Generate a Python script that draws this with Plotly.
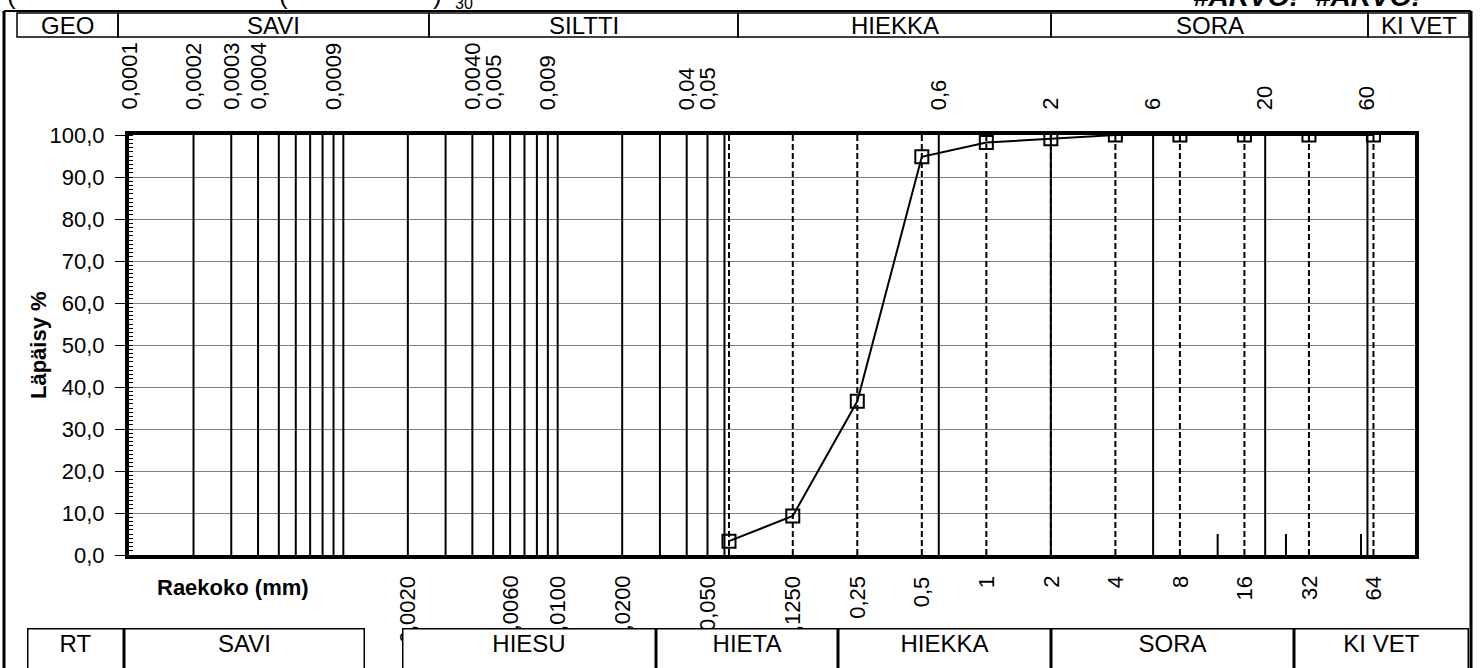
import math
import plotly.graph_objects as go

# ---------------- data ----------------
sieve_mm = [0.063, 0.125, 0.25, 0.5, 1, 2, 4, 8, 16, 32, 64]
passing_pct = [3.3, 9.3, 36.6, 94.8, 98.2, 99.1, 100, 100, 100, 100, 100]

solid_lines_mm = [0.0002, 0.0003, 0.0004, 0.0005, 0.0006, 0.0007, 0.0008, 0.0009, 0.001,
                  0.002, 0.003, 0.004, 0.005, 0.006, 0.007, 0.008, 0.009, 0.01,
                  0.02, 0.03, 0.04, 0.05, 0.06, 0.6, 2, 6, 20, 60]
dashed_lines_mm = [0.063, 0.125, 0.25, 0.5, 1, 2, 4, 8, 16, 32, 64]
short_marks_mm = [12, 25, 56]
short_marks_height = [5, 5, 5]

top_tick_vals = [0.0001, 0.0002, 0.0003, 0.0004, 0.0009, 0.0040, 0.005, 0.009,
                 0.04, 0.05, 0.6, 2, 6, 20, 60]
top_tick_text = ["0,0001", "0,0002", "0,0003", "0,0004", "0,0009", "0,0040", "0,005",
                 "0,009", "0,04", "0,05", "0,6", "2", "6", "20", "60"]
bottom_tick_vals = [0.002, 0.006, 0.01, 0.02, 0.05, 0.125, 0.25, 0.5, 1, 2, 4, 8, 16, 32, 64]
bottom_tick_text = ["0,0020", "0,0060", "0,0100", "0,0200", "0,050", "0,1250", "0,25",
                    "0,5", "1", "2", "4", "8", "16", "32", "64"]

top_table_labels = ["GEO", "SAVI", "SILTTI", "HIEKKA", "SORA", "KI VET"]
top_table_edges = [17, 118, 429, 738, 1051, 1368, 1469]
bottom_table_labels = ["RT", "SAVI", "HIESU", "HIETA", "HIEKKA", "SORA", "KI VET"]
bottom_table_cells = [(27, 124), (124, 365), (402, 656), (656, 838), (838, 1051),
                      (1051, 1294), (1294, 1469)]

# ---------------- layout geometry (window pixels) ----------------
W, H = 1481, 668
OFF = 0   # page body margin removed via post_script
PL, PR, PT, PB = 129, 1415, 135, 555          # plot area in window pixels
FONT = "Arial, Liberation Sans, sans-serif"
FS = 22      # tick / label font
FS_T = 24    # table font


def px_x(px):
    return (px - PL) / (PR - PL)


def px_y(py):
    return (PB - py) / (PB - PT)


def vlines(vals, y0, y1s):
    xs, ys = [], []
    for v, y1 in zip(vals, y1s):
        xs += [v, v, None]
        ys += [y0, y1, None]
    return xs, ys


fig = go.Figure()

xs, ys = vlines(solid_lines_mm, 0, [100] * len(solid_lines_mm))
fig.add_trace(go.Scatter(x=xs, y=ys, mode="lines", line=dict(color="black", width=2),
                         hoverinfo="skip", showlegend=False))
xs, ys = vlines(dashed_lines_mm, 0, [100] * len(dashed_lines_mm))
fig.add_trace(go.Scatter(x=xs, y=ys, mode="lines",
                         line=dict(color="black", width=2, dash="6px,3px"),
                         hoverinfo="skip", showlegend=False))
xs, ys = vlines(short_marks_mm, 0, short_marks_height)
fig.add_trace(go.Scatter(x=xs, y=ys, mode="lines", line=dict(color="black", width=2),
                         hoverinfo="skip", showlegend=False))

fig.add_trace(go.Scatter(
    x=sieve_mm, y=passing_pct, mode="lines+markers",
    line=dict(color="black", width=2),
    marker=dict(symbol="square-open", size=13, color="black", line=dict(width=2)),
    showlegend=False))

annotations = []
shapes = []

# top rotated labels
for v, t in zip(top_tick_vals, top_tick_text):
    annotations.append(dict(x=math.log10(v), xref="x", y=px_y(112), yref="paper",
                            text=t, textangle=-90, showarrow=False,
                            xanchor="center", yanchor="bottom",
                            font=dict(family=FONT, size=FS, color="black")))
# bottom rotated labels
for v, t in zip(bottom_tick_vals, bottom_tick_text):
    annotations.append(dict(x=math.log10(v), xref="x", y=px_y(574), yref="paper",
                            text=t, textangle=-90, showarrow=False,
                            xanchor="center", yanchor="top",
                            font=dict(family=FONT, size=FS, color="black")))

annotations.append(dict(x=px_x(233), xref="paper", y=px_y(587), yref="paper",
                        text="<b>Raekoko (mm)</b>", showarrow=False,
                        xanchor="center", yanchor="middle",
                        font=dict(family=FONT, size=FS, color="black")))
annotations.append(dict(x=px_x(38), xref="paper", y=px_y(345), yref="paper",
                        text="<b>Läpäisy %</b>", textangle=-90, showarrow=False,
                        xanchor="center", yanchor="middle",
                        font=dict(family=FONT, size=FS, color="black")))

# top title row, cut off by the window's top edge as in the reference
for txt, cx, size, by in [("(", 11, 26, 12), ("(", 283, 26, 12), (")", 437, 26, 12),
                          ("30", 464, 16, 14)]:
    annotations.append(dict(x=px_x(cx), xref="paper", y=px_y(by), yref="paper",
                            text=txt, showarrow=False, xanchor="center", yanchor="bottom",
                            font=dict(family=FONT, size=size, color="black")))
for cx in [1246, 1368]:
    annotations.append(dict(x=px_x(cx), xref="paper", y=px_y(14), yref="paper",
                            text="<b><i>#ARVO!</i></b>", showarrow=False,
                            xanchor="center", yanchor="bottom",
                            font=dict(family=FONT, size=28, color="black")))

# top table
for i, lab in enumerate(top_table_labels):
    x0, x1 = top_table_edges[i], top_table_edges[i + 1]
    shapes.append(dict(type="rect", xref="paper", yref="paper",
                       x0=px_x(x0), x1=px_x(x1), y0=px_y(37), y1=px_y(13),
                       line=dict(color="black", width=1.5)))
    annotations.append(dict(x=px_x((x0 + x1) / 2), xref="paper", y=px_y(25), yref="paper",
                            text=lab, showarrow=False, xanchor="center", yanchor="middle",
                            font=dict(family=FONT, size=FS_T, color="black")))

# bottom table (cells drawn as boxed annotations so they cover label overflow)
for lab, (x0, x1) in zip(bottom_table_labels, bottom_table_cells):
    annotations.append(dict(x=px_x((x0 + x1) / 2), xref="paper", y=px_y(628), yref="paper",
                            text=lab, showarrow=False, xanchor="center", yanchor="top",
                            width=x1 - x0 - 3, height=60, valign="top", align="center",
                            bgcolor="white", bordercolor="black", borderwidth=1.5,
                            borderpad=0,
                            font=dict(family=FONT, size=FS_T, color="black")))

# outer frame
shapes.append(dict(type="line", xref="paper", yref="paper", x0=px_x(4), x1=px_x(1471),
                   y0=px_y(11), y1=px_y(11), line=dict(color="black", width=2)))
shapes.append(dict(type="line", xref="paper", yref="paper", x0=px_x(4), x1=px_x(4),
                   y0=px_y(11), y1=px_y(700), line=dict(color="black", width=3)))
shapes.append(dict(type="line", xref="paper", yref="paper", x0=px_x(1471), x1=px_x(1471),
                   y0=px_y(11), y1=px_y(700), line=dict(color="black", width=3)))

fig.update_layout(
    width=W, height=H,
    margin=dict(l=PL - OFF, r=W - (PR - OFF), t=PT - OFF, b=H - (PB - OFF), pad=0),
    paper_bgcolor="white", plot_bgcolor="white",
    separators=", ",
    font=dict(family=FONT, size=FS, color="black"),
    showlegend=False,
    annotations=annotations,
    shapes=shapes,
    xaxis=dict(type="log", range=[-4, 2], showgrid=False, zeroline=False,
               showticklabels=False, ticks="", showline=True, mirror=True,
               linecolor="black", linewidth=4, fixedrange=True),
    yaxis=dict(range=[0, 100], dtick=10, tick0=0, tickformat=".1f",
               showgrid=True, gridcolor="#808080", gridwidth=1, zeroline=False,
               ticks="outside", ticklen=10, tickwidth=1, tickcolor="black",
               ticklabelstandoff=6,
               minor=dict(ticks="inside", dtick=1, ticklen=4, tickwidth=1,
                          tickcolor="black", showgrid=False),
               showline=True, mirror=True, linecolor="black", linewidth=4,
               tickfont=dict(family=FONT, size=FS, color="black"), fixedrange=True),
)

fig.write_html("out.html",
               config={"displayModeBar": False, "staticPlot": True},
               post_script="document.body.style.margin='0px';document.body.style.overflow='hidden';")
